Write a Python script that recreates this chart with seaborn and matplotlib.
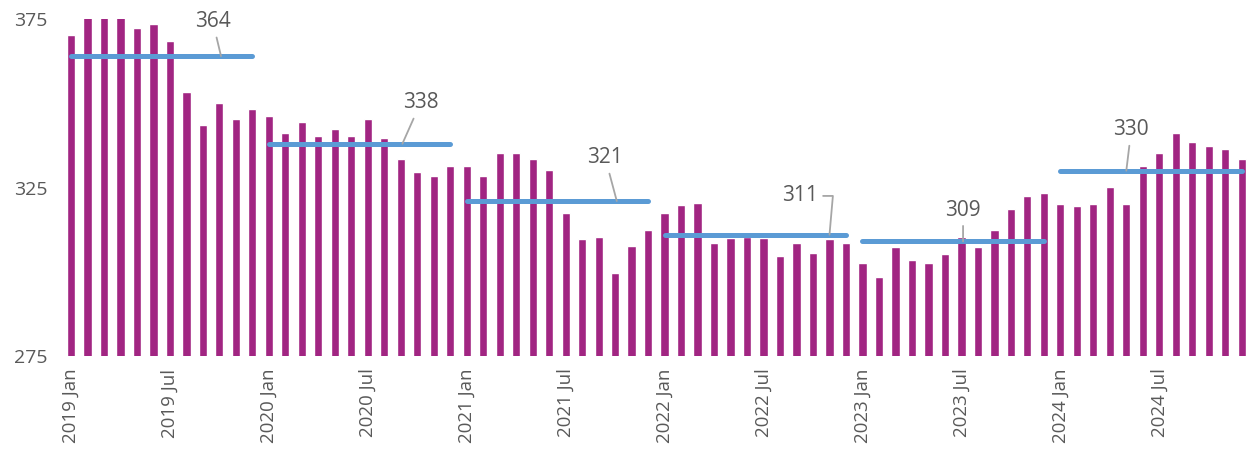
import numpy as np
import pandas as pd
import matplotlib
matplotlib.use("Agg")
import matplotlib.pyplot as plt
import seaborn as sns

# monthly values, 2019 Jan .. 2024 Dec
months = ['Jan', 'Feb', 'Mar', 'Apr', 'May', 'Jun',
          'Jul', 'Aug', 'Sep', 'Oct', 'Nov', 'Dec']
years = [2019, 2020, 2021, 2022, 2023, 2024]

v2019 = [370.3, 379, 380, 379, 372.3, 373.4, 368.4, 353.4, 343.4, 350.2, 345.3, 348.4]
v2020 = [346.3, 341.3, 344.5, 340.3, 342.5, 340.3, 345.3, 339.6, 333.5, 329.5, 328.4, 331.3]
v2021 = [331.3, 328.4, 335.2, 335.2, 333.5, 330.3, 317.4, 309.6, 310.3, 299.6, 307.5, 312.4]
v2022 = [317.4, 319.7, 320.3, 308.5, 310.0, 310.2, 310.0, 304.7, 308.5, 305.5, 309.6, 308.6]
v2023 = [302.5, 298.5, 307.4, 303.5, 302.5, 305.4, 310.4, 307.4, 312.5, 318.5, 322.4, 323.5]
v2024 = [320.2, 319.5, 320.2, 325.2, 320.2, 331.3, 335.2, 341.3, 338.4, 337.4, 336.3, 333.5]

year_avg = [364, 338, 321, 311, 309, 330]

labels = [f"{y} {m}" for y in years for m in months]
values = v2019 + v2020 + v2021 + v2022 + v2023 + v2024
df = pd.DataFrame({'month': labels, 'value': values})

bar_color = '#A12582'
line_color = '#5B9BD5'
text_color = '#595959'
lead_color = '#A6A6A6'

sns.set_style('white')
plt.rcParams['font.family'] = ['Open Sans', 'DejaVu Sans']

fig = plt.figure(figsize=(12.54, 4.58), dpi=100)
ax = fig.add_axes([0.0487, 0.2227, 0.9481, 0.7358])

sns.barplot(data=df, x='month', y='value', color=bar_color, width=0.5,
            saturation=1, ax=ax)

# yearly average lines
for i, avg in enumerate(year_avg):
    ax.plot([i * 12, i * 12 + 11], [avg, avg], color=line_color, lw=3.6,
            solid_capstyle='round', zorder=3)

# label positions (data coords) and where the leader meets the line
lab_pos = [(8.6, 374.2), (21.2, 350.1), (32.4, 333.8), (44.2, 322.5), (54.1, 318.3), (64.3, 342.1)]
lead_x = [9.1, 20.1, 33.1, 46.0, 54.1, 64.0]
for i, avg in enumerate(year_avg):
    conn = 'arc3'
    if i == 3:
        conn = 'angle,angleA=0,angleB=85,rad=0'
    ax.annotate(str(avg), xy=(lead_x[i], avg), xytext=lab_pos[i],
                ha='center', va='center', fontsize=15, color=text_color,
                arrowprops=dict(arrowstyle='-', color=lead_color, lw=1.3,
                                shrinkA=1.5, shrinkB=0, connectionstyle=conn),
                zorder=4)

ax.set_xlim(-0.6, 71.5)
ax.set_ylim(275, 375)
ax.set_yticks([275, 325, 375])
ax.set_yticklabels(['275', '325', '375'], fontsize=14, color=text_color)
tick_idx = list(range(0, 72, 6))
ax.set_xticks(tick_idx)
ax.set_xticklabels([labels[i] for i in tick_idx], rotation=90, fontsize=13.5,
                   color=text_color)
ax.tick_params(axis='both', length=0)
ax.tick_params(axis='y', pad=10)
ax.tick_params(axis='x', pad=9)
ax.set_xlabel('')
ax.set_ylabel('')
sns.despine(ax=ax, left=True, bottom=True)

fig.savefig('out.png', dpi=100)
